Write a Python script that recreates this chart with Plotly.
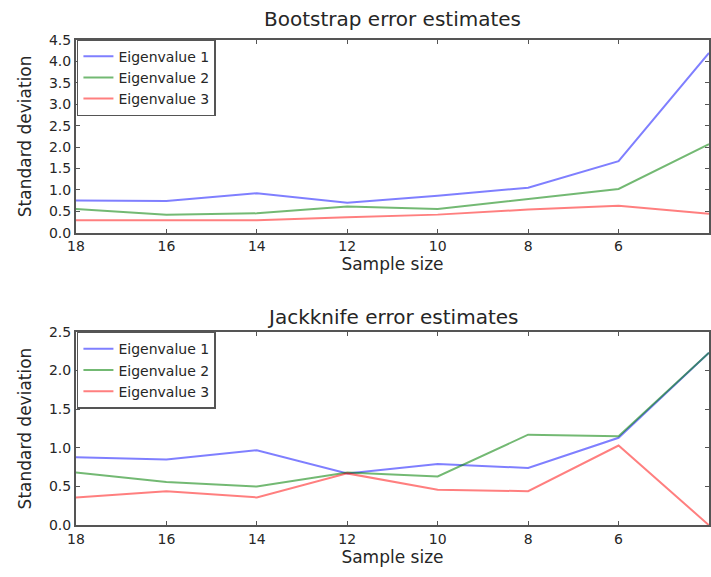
import plotly.graph_objects as go
from plotly.subplots import make_subplots

sample_sizes = [18, 16, 14, 12, 10, 8, 6, 4]

boot_ev1 = [0.75, 0.74, 0.92, 0.70, 0.86, 1.05, 1.67, 4.2]
boot_ev2 = [0.55, 0.42, 0.45, 0.61, 0.55, 0.78, 1.02, 2.07]
boot_ev3 = [0.29, 0.29, 0.29, 0.36, 0.42, 0.54, 0.63, 0.44]

jack_ev1 = [0.88, 0.85, 0.97, 0.67, 0.79, 0.74, 1.13, 2.23]
jack_ev2 = [0.68, 0.56, 0.50, 0.68, 0.63, 1.17, 1.15, 2.23]
jack_ev3 = [0.36, 0.44, 0.36, 0.67, 0.46, 0.44, 1.03, 0.0]

names = ["Eigenvalue 1", "Eigenvalue 2", "Eigenvalue 3"]
colors = ["rgba(0,0,255,0.5)", "rgba(0,128,0,0.55)", "rgba(255,0,0,0.5)"]

W, H = 711, 577
FONT = "DejaVu Sans"
TXT = "#262626"

fig = make_subplots(rows=2, cols=1)

for i, ys in enumerate([boot_ev1, boot_ev2, boot_ev3]):
    fig.add_trace(go.Scatter(x=sample_sizes, y=ys, mode="lines", name=names[i],
                             line=dict(color=colors[i], width=2), legend="legend"), row=1, col=1)
for i, ys in enumerate([jack_ev1, jack_ev2, jack_ev3]):
    fig.add_trace(go.Scatter(x=sample_sizes, y=ys, mode="lines", name=names[i],
                             line=dict(color=colors[i], width=2), legend="legend2"), row=2, col=1)

xdom = [68 / W, 1.0]
y1dom = [1 - 231 / H, 1 - 33 / H]
y2dom = [1 - 532 / H, 1 - 333 / H]

axcommon = dict(showline=True, linecolor="#555", linewidth=2, mirror="allticks",
                ticks="inside", ticklen=4, tickcolor="#555", showgrid=False, zeroline=False,
                tickfont=dict(family=FONT, size=14, color=TXT))

fig.update_xaxes(domain=xdom, range=[18, 4], tickmode="linear", tick0=4, dtick=2,
                 title=dict(text="Sample size", font=dict(family=FONT, size=17, color=TXT), standoff=3),
                 **axcommon)
fig.update_yaxes(title=dict(text="Standard deviation", font=dict(family=FONT, size=17, color=TXT), standoff=13),
                 tickformat=".1f", **axcommon)
fig.update_yaxes(domain=y1dom, range=[0, 4.5], dtick=0.5, row=1, col=1)
fig.update_yaxes(domain=y2dom, range=[0, 2.5], dtick=0.5, row=2, col=1)

legcommon = dict(xref="paper", yref="paper", xanchor="left", yanchor="top",
                 bgcolor="white", bordercolor="#555", borderwidth=1.5,
                 font=dict(family=FONT, size=14, color=TXT), itemwidth=30,
                 tracegroupgap=0)
fig.update_layout(
    width=W, height=H,
    margin=dict(l=0, r=0, t=0, b=0),
    paper_bgcolor="white", plot_bgcolor="white",
    legend=dict(x=69 / W, y=1 - 32 / H, **legcommon),
    legend2=dict(x=69 / W, y=1 - 333 / H, **legcommon),
    annotations=[
        dict(text="Bootstrap error estimates", x=(68 + 711) / 2 / W, y=1 - 11 / H,
             xref="paper", yref="paper", showarrow=False, xanchor="center", yanchor="middle",
             font=dict(family=FONT, size=20, color=TXT)),
        dict(text="Jackknife error estimates", x=(68 + 711) / 2 / W, y=1 - 318 / H,
             xref="paper", yref="paper", showarrow=False, xanchor="center", yanchor="middle",
             font=dict(family=FONT, size=20, color=TXT)),
    ],
)

fig.write_html("out.html")
